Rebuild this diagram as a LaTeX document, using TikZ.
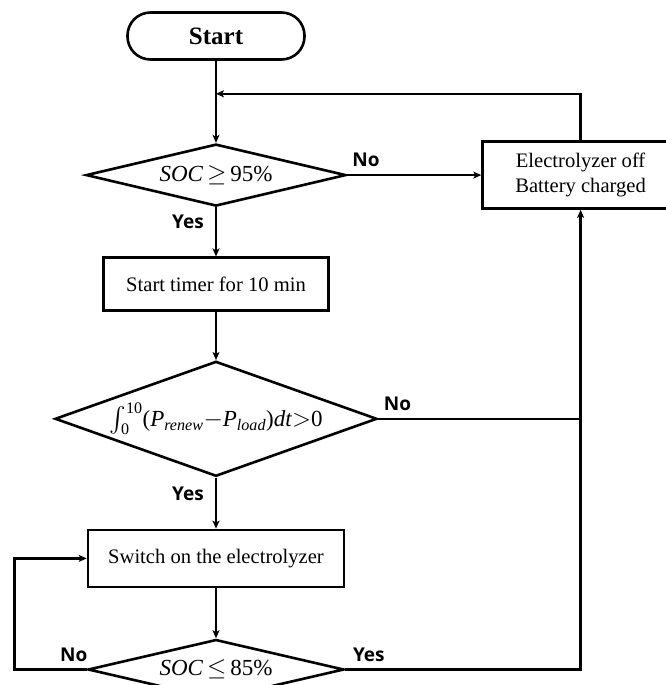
\documentclass[tikz,border=0pt]{standalone}
\usepackage{amsmath}
\usepackage{fontspec}
\setmainfont{Liberation Serif}
\newfontfamily\lblfont{Open Sans}
\usetikzlibrary{positioning,shapes.geometric,arrows.meta}

\begin{document}
\begin{tikzpicture}[%
		->,
		>={Stealth[length=8pt,width=7pt,inset=2pt]},
		line width=2.6pt,
		every edge/.append style={line width=2.6pt},
		box/.style={%
			draw,
			rectangle,
			line width=2.6pt,
			inner sep=0pt,
			align=center,
			font=\fontsize{20.6}{25}\selectfont
		},
		decision/.style={%
			draw,
			diamond,
			line width=2.6pt,
			inner sep=0pt,
			font=\fontsize{23}{27}\selectfont
		},
		lbl/.style={%
			inner sep=0pt,
			font=\lblfont\bfseries\fontsize{19}{22}\selectfont
		}
		]
		\useasboundingbox (-216pt,36pt) rectangle (449pt,-649pt);
		\node[box, rounded corners=23pt, minimum width=177pt, minimum height=47pt,
			font=\bfseries\fontsize{25}{30}\selectfont] (start) at (0,0) {Start};
		\node[decision, minimum width=260pt, minimum height=62pt, aspect=4.2]
			(soc1) [below=82pt of start] {\textit{SOC}\,$\geq$\,95\%};
		\node[box, minimum width=196pt, minimum height=67pt]
			(off) [right=134pt of soc1] {Electrolyzer off\\Battery charged};
		\node[box, minimum width=225pt, minimum height=53pt]
			(timer) [below=49pt of soc1] {Start timer for 10 min};
		\node[decision, minimum width=322pt, minimum height=115pt, aspect=2.8]
			(energy) [below=48pt of timer]
			{$\int_{\text{0}}^{\text{10}}$(\textit{P}\textsubscript{\textit{renew}}$-$\textit{P}\textsubscript{\textit{load}})\textit{dt}$>$0};
		\node[box, minimum width=256pt, minimum height=57pt]
			(switch) [below=51pt of energy] {Switch on the electrolyzer};
		\node[decision, minimum width=256pt, minimum height=60pt, aspect=4.27]
			(soc2) [below=50pt of switch] {\textit{SOC}\,$\leq$\,85\%};

		\coordinate[below=33pt of start.south] (back);
		\coordinate[left=72pt of soc2.west] (loop);

		\path (start) edge                                         node {} (soc1)
		(soc1) edge             node[lbl, above=7pt, pos=0.14] (no1) {No} (off)
		(soc1) edge     node[lbl, left=11pt, pos=0.29] (yes1) {Yes} (timer)
		(timer) edge                                             node {} (energy)
		(energy) edge  node[lbl, left=11pt, pos=0.31] (yes2) {Yes} (switch)
		(switch) edge                                            node {} (soc2);

		\draw (off.north) |- (back);
		\draw[-] (energy.east) -- node[lbl, above=7pt, pos=0.095] (no2) {No} (off.south |- energy.east);
		\draw (soc2.east) -- node[lbl, above=7pt, pos=0.1] (yes3) {Yes} (off.south |- soc2.east) -- (off.south);
		\draw (soc2.west) -- node[lbl, above=7pt, pos=0.18] (no3) {No} (loop) |- (switch.west);
		\end{tikzpicture}
\end{document}
